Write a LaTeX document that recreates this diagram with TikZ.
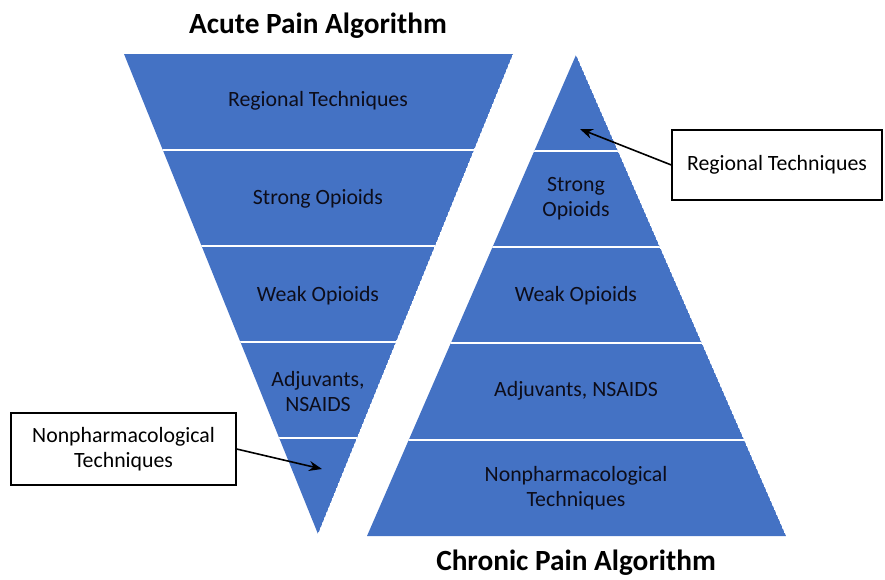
\documentclass[tikz,border=0pt]{standalone}
\usepackage{fontspec}
\setmainfont{Carlito}
\usetikzlibrary{positioning,calc,arrows.meta}
\definecolor{bandblue}{HTML}{4472C4}
\definecolor{inktext}{HTML}{0D0D1A}

\tikzset{
	band/.style={fill=bandblue},
	sepline/.style={draw=white, line width=2.5pt},
	lbl/.style={font=\fontsize{21.8}{25}\selectfont, text=inktext, align=center},
	ttl/.style={font=\fontsize{29.3}{34}\selectfont\bfseries},
	callout/.style={rectangle, draw=black, line width=1.3pt, fill=white, align=center, font=\fontsize{21.8}{25}\selectfont},
	pointer/.style={-{Stealth[length=13pt,width=10pt]}, line width=1.6pt},
}

\begin{document}
\begin{tikzpicture}[x=1pt,y=-1pt]
		\useasboundingbox (0,0) rectangle (885,579);
		
		% acute: inverted triangle
		\begin{scope}
			\clip (124,54) -- (513,54) -- (318,534) -- cycle;
			\fill[band] (124,54) -- (513,54) -- (318,534) -- cycle;
			\foreach \y in {150,246,342,438}
				\draw[sepline] (100,\y) -- (540,\y);
		\end{scope}
		
		% chronic: upright triangle
		\begin{scope}
			\clip (576,55) -- (786,536) -- (367,536) -- cycle;
			\fill[band] (576,55) -- (786,536) -- (367,536) -- cycle;
			\foreach \y in {151,247,343,440}
				\draw[sepline] (340,\y) -- (810,\y);
		\end{scope}
		
		\node[ttl] (acute) at (318,26) {Acute Pain Algorithm};
		\node[ttl] (chronic) at (576,563) {Chronic Pain Algorithm};
		
		\node[lbl] (aReg) at (318,101) {Regional Techniques};
		\node[lbl] (aStrong) at (318,199) {Strong Opioids};
		\node[lbl] (aWeak) at (318,296) {Weak Opioids};
		\node[lbl] (aAdj) at (318,391) {Adjuvants,\\NSAIDS};
		\coordinate (aNon) at (322,469);
		
		\coordinate (cReg) at (580,129);
		\node[lbl] (cStrong) at (576,199) {Strong\\Opioids};
		\node[lbl] (cWeak) at (576,296) {Weak Opioids};
		\node[lbl] (cAdj) at (576,391) {Adjuvants, NSAIDS};
		\node[lbl] (cNon) at (576,488) {Nonpharmacological\\Techniques};
		
		\node[callout, minimum width=210pt, minimum height=70pt] (boxReg) at (777,165) {Regional Techniques};
		\node[callout, minimum width=225pt, minimum height=72pt] (boxNon) at (123.5,449) {Nonpharmacological\\Techniques};
		
		\draw[pointer] (boxReg.west) -- (cReg);
		\draw[pointer] (boxNon.east) -- (aNon);
	\end{tikzpicture}
\end{document}
